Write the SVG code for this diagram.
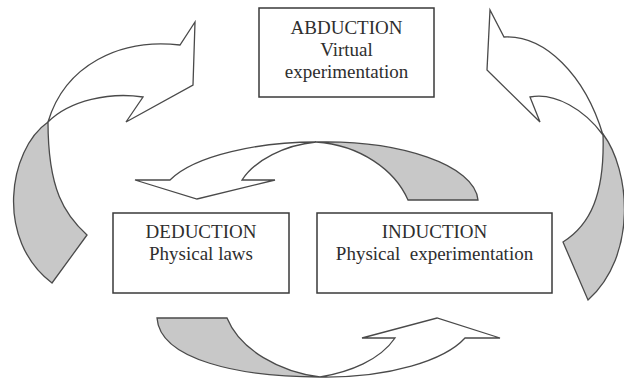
<svg xmlns="http://www.w3.org/2000/svg" width="624" height="379" viewBox="0 0 624 379">
  <style>
    .box { fill: #ffffff; stroke: #3a3a3a; stroke-width: 1.5; }
    .label { font-family: "Liberation Serif", "Times New Roman", serif; font-size: 19px; fill: #2e2e2e; text-anchor: middle; }
    .front { fill: #ffffff; stroke: #4a4a4a; stroke-width: 1.3; stroke-linejoin: miter; }
    .back { fill: #c8c8c8; stroke: #4a4a4a; stroke-width: 1.3; }
  </style>
  <rect width="624" height="379" fill="#ffffff"/>

  <g id="connectors">
    <!-- left loop: deduction up to abduction -->
    <g id="loop-left">
      <path class="back" d="M48,122 C8,150 -5,240 52,283 L87,235 C65,215 48,190 48,122 Z"/>
      <path class="front" d="M48,122 C65,65 120,38 180,45 L195,22 L193,85 L126,122 L143,97 C110,92 70,100 48,122 Z"/>
    </g>
    <!-- right loop: induction up to abduction -->
    <g id="loop-right">
      <path class="back" d="M603,134 C630,170 638,255 588,300 L563,242 C590,225 605,195 603,134 Z"/>
      <path class="front" d="M603,135 C585,75 545,35 504,37 L490,10 L487,70 L540,122 L530,97 C555,92 585,110 603,135 Z"/>
    </g>
    <!-- upper loop: induction over to deduction -->
    <g id="loop-top">
      <path class="back" d="M316,142 C400,140 475,165 478,200 L408,200 C395,170 360,145 316,142 Z"/>
      <path class="front" d="M316,142 C260,142 195,155 170,180 L135,180 L197,199 L275,180 L242,180 C255,160 285,145 316,142 Z"/>
    </g>
    <!-- lower loop: deduction under to induction -->
    <g id="loop-bottom">
      <path class="back" d="M157,318 L227,318 C240,350 280,372 320,377 C240,377 160,360 157,318 Z"/>
      <path class="front" d="M320,377 C390,378 445,360 465,338 L500,338 L437,318 L362,338 L395,338 C380,360 350,372 320,377 Z"/>
    </g>
  </g>

  <g id="abduction">
    <rect class="box" x="259" y="8" width="175" height="89"/>
    <text class="label" x="346.5" y="34">ABDUCTION</text>
    <text class="label" x="346.5" y="56">Virtual</text>
    <text class="label" x="346.5" y="78">experimentation</text>
  </g>

  <g id="deduction">
    <rect class="box" x="113" y="213" width="176" height="80"/>
    <text class="label" x="201" y="238">DEDUCTION</text>
    <text class="label" x="201" y="260">Physical laws</text>
  </g>

  <g id="induction">
    <rect class="box" x="317" y="213" width="235" height="80"/>
    <text class="label" x="434.5" y="238">INDUCTION</text>
    <text class="label" x="434.5" y="260" style="white-space: pre">Physical  experimentation</text>
  </g>
</svg>
